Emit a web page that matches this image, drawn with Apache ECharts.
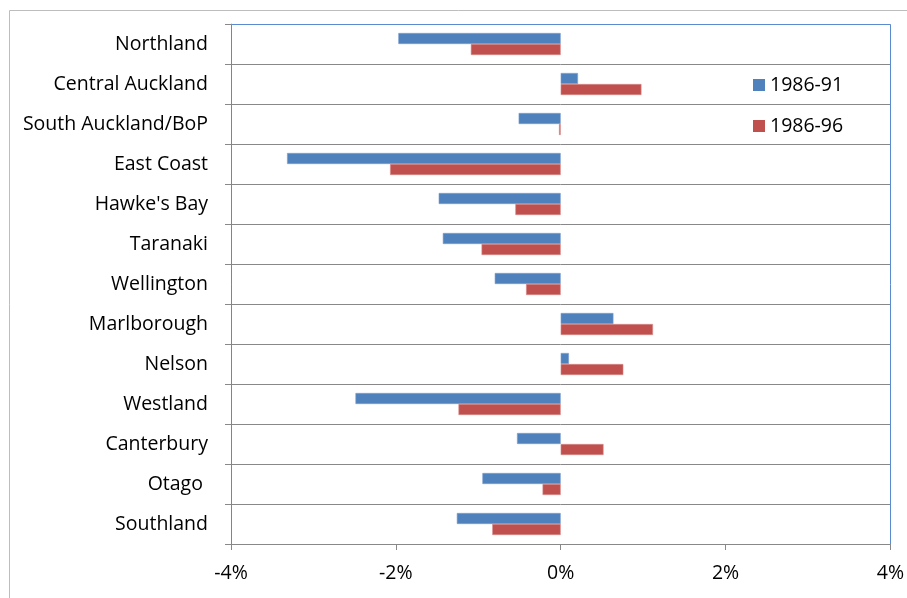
<!DOCTYPE html>
<html>
<head>
<meta charset="utf-8">
<script src="https://cdn.jsdelivr.net/npm/echarts@6/dist/echarts.min.js"></script>
<style>
  html, body { margin: 0; padding: 0; background: #fff; }
  #chart { width: 907px; height: 598px; }
</style>
</head>
<body>
<div id="chart"></div>
<script>
  // regions, top to bottom
  const regions = [
    'Northland', 'Central Auckland', 'South Auckland/BoP', 'East Coast',
    "Hawke's Bay", 'Taranaki', 'Wellington', 'Marlborough', 'Nelson',
    'Westland', 'Canterbury', 'Otago ', 'Southland'
  ];

  // percentage change
  const change8691 = [-1.97, 0.21, -0.51, -3.32, -1.48, -1.43, -0.80, 0.64, 0.10, -2.49, -0.53, -0.95, -1.26];
  const change8696 = [-1.09, 0.98, -0.02, -2.07, -0.55, -0.96, -0.42, 1.12, 0.76, -1.24, 0.52, -0.22, -0.83];

  const xTicks = { min: -4, max: 4, step: 2 };

  const FONT = 'Open Sans';
  const chart = echarts.init(document.getElementById('chart'));

  chart.setOption({
    animation: false,
    textStyle: { fontFamily: FONT },
    grid: { left: 231, right: 16, top: 24, bottom: 54, containLabel: false },
    legend: {
      orient: 'vertical',
      left: 748,
      top: 69,
      itemWidth: 12,
      itemHeight: 12,
      itemGap: 19,
      icon: 'rect',
      itemStyle: { borderWidth: 0 },
      textStyle: { fontFamily: FONT, fontSize: 19.5, color: '#000', lineHeight: 22 },
      data: ['1986-91', '1986-96']
    },
    xAxis: {
      type: 'value',
      min: xTicks.min,
      max: xTicks.max,
      interval: xTicks.step,
      axisLine: { show: true, lineStyle: { color: '#888' } },
      axisTick: { show: true, length: 6, lineStyle: { color: '#888' } },
      splitLine: { show: false },
      axisLabel: {
        formatter: '{value}%',
        margin: 19,
        fontFamily: FONT,
        fontSize: 19.5,
        color: '#000'
      }
    },
    yAxis: [
      {
        type: 'category',
        inverse: true,
        data: regions,
        axisLine: { show: false },
        axisTick: { show: false },
        splitLine: { show: true, lineStyle: { color: '#888', width: 1 } },
        axisLabel: { margin: 23, fontFamily: FONT, fontSize: 19.5, color: '#000', padding: [3, 0, 0, 0] }
      },
      {
        type: 'category',
        inverse: true,
        position: 'left',
        data: regions,
        axisLine: { show: true, onZero: true, lineStyle: { color: '#aaa' } },
        axisTick: { show: true, length: 6, lineStyle: { color: '#888' } },
        axisLabel: { show: false },
        splitLine: { show: false }
      }
    ],
    graphic: [
      {
        type: 'rect',
        z: 100,
        silent: true,
        shape: { x: 9.5, y: 10.5, width: 940, height: 640 },
        style: { fill: null, stroke: '#bdbdbd', lineWidth: 1 }
      },
      {
        type: 'polyline',
        z: 100,
        silent: true,
        shape: { points: [[231.5, 544], [231.5, 24.5], [890.5, 24.5], [890.5, 544]] },
        style: { fill: null, stroke: '#5a8ad0', lineWidth: 1 }
      }
    ],
    series: [
      {
        name: '1986-91',
        type: 'bar',
        yAxisIndex: 0,
        data: change8691,
        barWidth: 11,
        barGap: '0%',
        itemStyle: { color: '#4f81bd', borderColor: '#7a9fd0', borderWidth: 0.6 }
      },
      {
        name: '1986-96',
        type: 'bar',
        yAxisIndex: 0,
        data: change8696,
        barWidth: 11,
        barGap: '0%',
        itemStyle: { color: '#c0504d', borderColor: '#d58a88', borderWidth: 0.6 }
      }
    ]
  });
</script>
</body>
</html>
